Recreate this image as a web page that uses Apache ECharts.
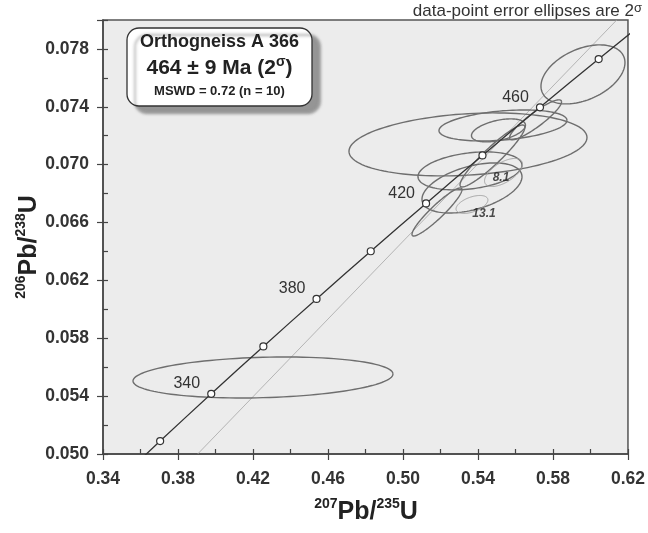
<!DOCTYPE html>
<html>
<head>
<meta charset="utf-8">
<script src="https://cdn.jsdelivr.net/npm/echarts@6/dist/echarts.min.js"></script>
<style>html,body{margin:0;padding:0;background:#fff;}#c{width:648px;height:533px;}</style>
</head>
<body>
<div id="c"></div>
<script>
// ---- Data ----
// Concordia age marks (Ma) and their ratios
const concordiaAges = [300, 320, 340, 360, 380, 400, 420, 440, 460, 480, 500];
const concordiaX = [0.34374, 0.37047, 0.39773, 0.42553, 0.45389, 0.48281, 0.51231, 0.54239, 0.57307, 0.60437, 0.63628];
const concordiaY = [0.047637, 0.050893, 0.054158, 0.057433, 0.060719, 0.064015, 0.067321, 0.070638, 0.073964, 0.077301, 0.080648];
const labeledAges = [340, 380, 420, 460];
// thin reference line end points
const refLineX = [0.3905, 0.614];
const refLineY = [0.050, 0.080];
// error ellipses: centre, 2-sigma half extents, correlation, excluded flag
const ellCx  = [0.42533, 0.53467, 0.55333, 0.55093, 0.59600, 0.57070, 0.54773, 0.53573, 0.53680, 0.51813, 0.55360, 0.53680];
const ellCy  = [0.05529, 0.07140, 0.07271, 0.07237, 0.07624, 0.07310, 0.07060, 0.06957, 0.06839, 0.06673, 0.06946, 0.06725];
const ellSx  = [0.06933, 0.06347, 0.03413, 0.01440, 0.02240, 0.01387, 0.01730, 0.02773, 0.02667, 0.01333, 0.01010, 0.00850];
const ellSy  = [0.001417,0.002178,0.001072,0.000795,0.00204, 0.00138, 0.00214, 0.001314,0.00173, 0.00166, 0.00097, 0.00062];
const ellRho = [0.17, 0.22, 0.33, 0.45, 0.40, 0.90, 0.93, 0.30, 0.45, 0.93, 0.60, 0.50];
const ellExcluded = [0,0,0,0,0,0,0,0,0,0,1,1];
const annotText = ['8.1', '13.1'];
const annotX = [0.5523, 0.5432];
const annotY = [0.06908, 0.06659];
// axes
const xMin = 0.34, xMax = 0.62, xMinor = 0.02, xMajor = 0.04;
const yMin = 0.050, yMax = 0.080, yMinor = 0.002, yMajor = 0.004;

const ellData = ellCx.map((c, i) => [c, ellCy[i], ellSx[i], ellSy[i], ellRho[i], ellExcluded[i]]);
const curveData = concordiaAges.map((a, i) => ({
  value: [concordiaX[i], concordiaY[i]],
  symbolSize: (concordiaX[i] < xMin || concordiaY[i] > yMax || concordiaY[i] < yMin) ? 0 : 7,
  label: { show: labeledAges.indexOf(a) >= 0, formatter: String(a) }
}));

const FONT = "'Liberation Sans', Arial, Helvetica, sans-serif";
const chart = echarts.init(document.getElementById('c'), null, { renderer: 'canvas' });

const frameColor = '#555';
chart.setOption({
  animation: false,
  backgroundColor: '#fff',
  grid: { left: 103, right: 20, top: 20, bottom: 79, show: true, backgroundColor: '#ececec', borderColor: frameColor, borderWidth: 1.5 },
  xAxis: [
    { type: 'value', min: xMin, max: xMax, interval: xMinor, position: 'bottom',
      axisLine: { show: true, onZero: false, lineStyle: { color: '#444', width: 1.5 } },
      axisTick: { show: true, inside: true, length: 5, lineStyle: { color: '#444', width: 1.2 } },
      axisLabel: { show: false }, splitLine: { show: false } },
    { type: 'value', min: xMin, max: xMax, interval: xMajor, position: 'bottom',
      axisLine: { show: false, onZero: false },
      axisTick: { show: true, inside: false, length: 6, lineStyle: { color: '#444', width: 1.2 } },
      axisLabel: { show: true, margin: 16, color: '#333', fontFamily: FONT, fontWeight: 'bold', fontSize: 17.5,
        formatter: v => v.toFixed(2) },
      splitLine: { show: false } }
  ],
  yAxis: [
    { type: 'value', min: yMin, max: yMax, interval: yMinor, position: 'left',
      axisLine: { show: true, onZero: false, lineStyle: { color: '#444', width: 1.5 } },
      axisTick: { show: true, inside: true, length: 5, lineStyle: { color: '#444', width: 1.2 } },
      axisLabel: { show: false }, splitLine: { show: false } },
    { type: 'value', min: yMin, max: yMax, interval: yMajor, position: 'left',
      axisLine: { show: false, onZero: false },
      axisTick: { show: true, inside: false, length: 6, lineStyle: { color: '#444', width: 1.2 } },
      axisLabel: { show: true, margin: 14, color: '#333', fontFamily: FONT, fontWeight: 'bold', fontSize: 17.5,
        formatter: v => (Math.abs(v - yMax) < 1e-9 ? '' : v.toFixed(3)) },
      splitLine: { show: false } }
  ],
  series: [
    { type: 'line', xAxisIndex: 0, yAxisIndex: 0, data: refLineX.map((x, i) => [x, refLineY[i]]),
      symbol: 'none', lineStyle: { color: '#a6a6a6', width: 0.8 }, silent: true, z: 2 },
    { type: 'custom', xAxisIndex: 0, yAxisIndex: 0, data: ellData, encode: { x: 0, y: 1 }, z: 3, silent: true,
      renderItem: function (params, api) {
        const cx = api.value(0), cy = api.value(1), sx = api.value(2), sy = api.value(3), r = api.value(4), ex = api.value(5);
        const pts = [];
        const q = Math.sqrt(1 - r * r);
        for (let k = 0; k <= 120; k++) {
          const t = 2 * Math.PI * k / 120;
          pts.push(api.coord([cx + sx * Math.cos(t), cy + sy * (r * Math.cos(t) + q * Math.sin(t))]));
        }
        return { type: 'polyline', shape: { points: pts },
          style: { fill: null, stroke: ex ? '#a4a4a4' : '#6e6e6e', lineWidth: ex ? 1 : 1.4 } };
      } },
    { type: 'line', xAxisIndex: 0, yAxisIndex: 0, data: curveData, smooth: true, clip: true,
      symbol: 'circle', itemStyle: { color: '#fff', borderColor: '#333', borderWidth: 1.2 },
      lineStyle: { color: '#333', width: 1.3 }, z: 4, silent: true,
      label: { position: 'left', distance: 7, offset: [0, -10], color: '#333', fontFamily: FONT, fontSize: 16 } },
    { type: 'scatter', xAxisIndex: 0, yAxisIndex: 0, symbolSize: 0, z: 5, silent: true,
      data: annotText.map((t, i) => ({ value: [annotX[i], annotY[i]], name: t })),
      label: { show: true, position: 'inside', formatter: '{b}', color: '#222', fontFamily: FONT,
        fontSize: 12, fontWeight: 'bold', fontStyle: 'italic' } }
  ],
  graphic: [
    { type: 'rect', z: 10, shape: { x: 127, y: 28, width: 185, height: 78, r: 12 },
      style: { fill: '#fff', stroke: '#333', lineWidth: 1.3, shadowColor: 'rgba(120,120,120,0.75)', shadowBlur: 3, shadowOffsetX: 8, shadowOffsetY: 7 } },
    { type: 'text', z: 11, x: 219.5, y: 42,
      style: { text: 'Orthogneiss A 366', font: "bold 18px " + FONT, fill: '#222', align: 'center', verticalAlign: 'middle' } },
    { type: 'text', z: 11, x: 219.5, y: 67,
      style: { text: '{n|464 ± 9 Ma (2}{s|σ}{n|)}', align: 'center', verticalAlign: 'middle', fill: '#222',
        rich: { n: { font: "bold 21px " + FONT, fill: '#222', lineHeight: 24, verticalAlign: 'bottom' },
                s: { font: "bold 14px " + FONT, fill: '#222', lineHeight: 24, verticalAlign: 'top' } } } },
    { type: 'text', z: 11, x: 219.5, y: 91,
      style: { text: 'MSWD = 0.72 (n = 10)', font: "bold 13px " + FONT, fill: '#222', align: 'center', verticalAlign: 'middle' } },
    { type: 'text', z: 11, x: 642, y: 11,
      style: { text: '{n|data-point error ellipses are 2}{s|σ}', align: 'right', verticalAlign: 'middle',
        rich: { n: { font: "17px " + FONT, fill: '#333', lineHeight: 18, verticalAlign: 'bottom' },
                s: { font: "13px " + FONT, fill: '#333', lineHeight: 18, verticalAlign: 'top' } } } },
    { type: 'text', z: 11, x: 366, y: 511,
      style: { text: '{s|207}{n|Pb/}{s|235}{n|U}', align: 'center', verticalAlign: 'middle',
        rich: { n: { font: "bold 25px " + FONT, fill: '#222', lineHeight: 28, verticalAlign: 'bottom' },
                s: { font: "bold 14px " + FONT, fill: '#222', lineHeight: 28, verticalAlign: 'top' } } } },
    { type: 'text', z: 11, x: 28, y: 247, rotation: Math.PI / 2,
      style: { text: '{s|206}{n|Pb/}{s|238}{n|U}', align: 'center', verticalAlign: 'middle',
        rich: { n: { font: "bold 25px " + FONT, fill: '#222', lineHeight: 28, verticalAlign: 'bottom' },
                s: { font: "bold 14px " + FONT, fill: '#222', lineHeight: 28, verticalAlign: 'top' } } } }
  ]
});
</script>
</body>
</html>
